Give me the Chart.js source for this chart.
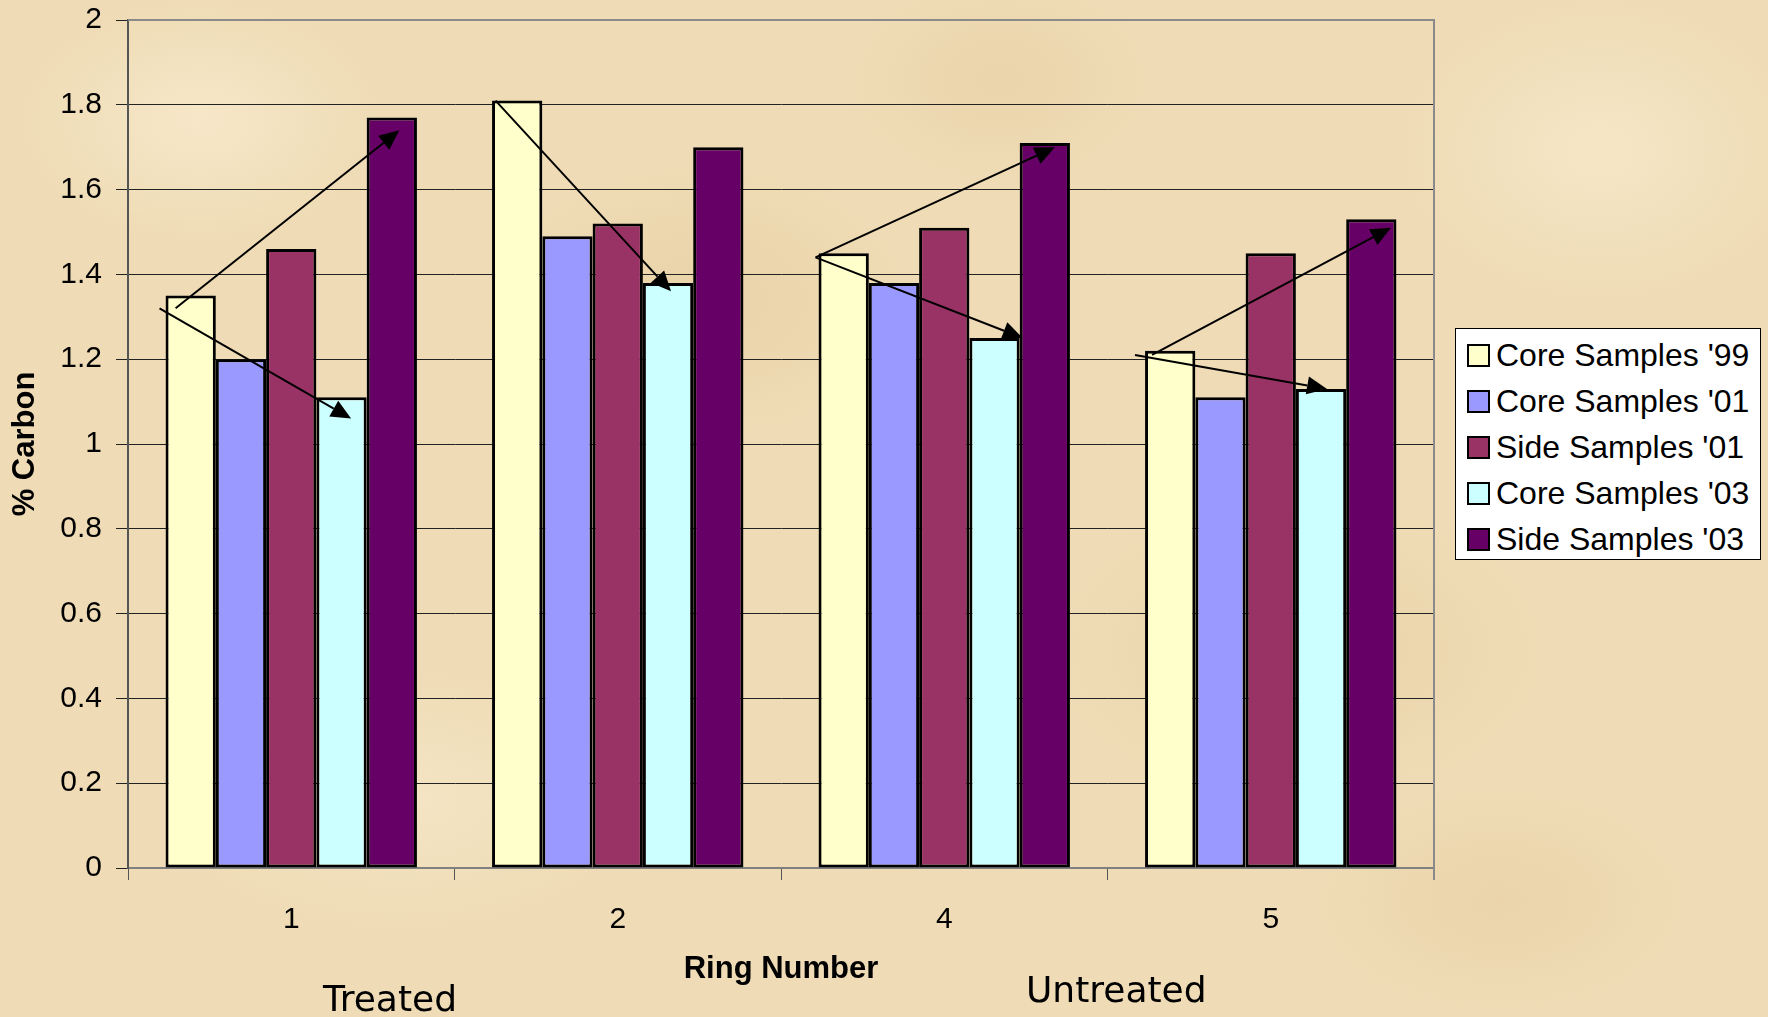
<!DOCTYPE html>
<html>
<head>
<meta charset="utf-8">
<script src="https://cdn.jsdelivr.net/npm/chart.js@4.4.0/dist/chart.umd.min.js"></script>
<style>
  body {
    margin: 0;
    width: 1768px;
    height: 1017px;
    overflow: hidden;
    background-color: #efdcb6;
    background-image:
      radial-gradient(ellipse 180px 120px at 200px 120px, rgba(248, 234, 205, 0.8), transparent),
      radial-gradient(ellipse 220px 140px at 700px 300px, rgba(226, 198, 150, 0.45), transparent),
      radial-gradient(ellipse 260px 160px at 1300px 650px, rgba(226, 198, 150, 0.4), transparent),
      radial-gradient(ellipse 200px 150px at 1600px 150px, rgba(248, 234, 205, 0.7), transparent),
      radial-gradient(ellipse 240px 130px at 400px 800px, rgba(248, 234, 205, 0.6), transparent),
      radial-gradient(ellipse 200px 120px at 1500px 900px, rgba(230, 204, 160, 0.5), transparent),
      radial-gradient(ellipse 160px 110px at 1000px 80px, rgba(228, 202, 158, 0.45), transparent);
  }
  #wrap { position: relative; width: 1768px; height: 1017px; }
  canvas { position: absolute; left: 0; top: 0; }
  #legend {
    position: absolute;
    left: 1455px;
    top: 328px;
    width: 306px;
    height: 232px;
    background: #fff;
    border: 1px solid #000;
    padding-top: 3px;
    box-sizing: border-box;
    font-family: "Liberation Sans", Arial, sans-serif;
    font-size: 32px;
    color: #000;
  }
  #legend .row { height: 46px; display: flex; align-items: center; padding-left: 11px; white-space: nowrap; }
  #legend .sw { width: 19px; height: 19px; border: 2px solid #000; margin-right: 6px; flex: none; }
  .note {
    position: absolute;
    font-family: "DejaVu Sans", sans-serif;
    font-size: 36px;
    line-height: 36px;
    color: #000;
    white-space: nowrap;
  }
</style>
</head>
<body>
<div id="wrap">
  <canvas id="chart" width="1768" height="1017"></canvas>
  <div id="legend"></div>
  <div class="note" style="left:323px; top:981px;">Treated</div>
  <div class="note" style="left:1026px; top:972px;">Untreated</div>
</div>
<script>
// ring numbers on the x axis
const rings = ['1', '2', '4', '5'];

const seriesNames = ["Core Samples '99", "Core Samples '01", "Side Samples '01", "Core Samples '03", "Side Samples '03"];
const seriesColors = ['#FFFFCC', '#9999FF', '#993366', '#CCFFFF', '#660066'];

// % carbon per ring
const core99 = [1.35, 1.81, 1.45, 1.22];
const core01 = [1.20, 1.49, 1.38, 1.11];
const side01 = [1.46, 1.52, 1.51, 1.45];
const core03 = [1.11, 1.38, 1.25, 1.13];
const side03 = [1.77, 1.70, 1.71, 1.53];

// trend arrows: ring index, from [bar position, value], to [bar position, value]
const arrows = [
    { ring: 0, from: [-0.30, 1.32], to: [4.15, 1.74] },
    { ring: 0, from: [-0.62, 1.32], to: [3.19, 1.06] },
    { ring: 1, from: [-0.43, 1.81], to: [3.06, 1.36] },
    { ring: 2, from: [-0.56, 1.44], to: [4.20, 1.70] },
    { ring: 2, from: [-0.56, 1.44], to: [3.56, 1.25] },
    { ring: 3, from: [-0.36, 1.21], to: [4.39, 1.51] },
    { ring: 3, from: [-0.70, 1.21], to: [3.12, 1.13] }
];

const allSeries = [core99, core01, side01, core03, side03];

const legendEl = document.getElementById('legend');
seriesNames.forEach((name, i) => {
    const row = document.createElement('div');
    row.className = 'row';
    const sw = document.createElement('span');
    sw.className = 'sw';
    sw.style.background = seriesColors[i];
    row.appendChild(sw);
    row.appendChild(document.createTextNode(name));
    legendEl.appendChild(row);
});

const arrowPlugin = {
    id: 'arrows',
    afterDatasetsDraw(chart) {
        const ctx = chart.ctx;
        const y = chart.scales.y;
        const first = chart.getDatasetMeta(0).data;
        const last = chart.getDatasetMeta(4).data;
        ctx.save();
        ctx.strokeStyle = '#000';
        ctx.fillStyle = '#000';
        ctx.lineWidth = 2;
        arrows.forEach(a => {
            const x0 = first[a.ring].x;
            const step = (last[a.ring].x - x0) / 4;
            const sx = x0 + a.from[0] * step, sy = y.getPixelForValue(a.from[1]);
            const ex = x0 + a.to[0] * step, ey = y.getPixelForValue(a.to[1]);
            const ang = Math.atan2(ey - sy, ex - sx);
            const len = 20, half = 9;
            const bx = ex - len * Math.cos(ang), by = ey - len * Math.sin(ang);
            ctx.beginPath();
            ctx.moveTo(sx, sy);
            ctx.lineTo(bx, by);
            ctx.stroke();
            ctx.beginPath();
            ctx.moveTo(ex, ey);
            ctx.lineTo(bx + half * Math.sin(ang), by - half * Math.cos(ang));
            ctx.lineTo(bx - half * Math.sin(ang), by + half * Math.cos(ang));
            ctx.closePath();
            ctx.fill();
        });
        ctx.restore();
    },
    afterDraw(chart) {
        const { ctx, chartArea } = chart;
        ctx.save();
        ctx.strokeStyle = '#8a8a8a';
        ctx.lineWidth = 2;
        ctx.beginPath();
        ctx.moveTo(chartArea.left, chartArea.top);
        ctx.lineTo(chartArea.right, chartArea.top);
        ctx.lineTo(chartArea.right, chartArea.bottom + 12);
        ctx.stroke();
        ctx.restore();
    }
};

new Chart(document.getElementById('chart'), {
    type: 'bar',
    data: {
        labels: rings,
        datasets: allSeries.map((vals, i) => ({
            label: seriesNames[i],
            data: vals,
            backgroundColor: seriesColors[i],
            borderColor: '#000',
            borderWidth: 3,
            borderSkipped: false
        }))
    },
    options: {
        responsive: false,
        animation: false,
        devicePixelRatio: 1,
        datasets: {
            bar: { categoryPercentage: 0.77, barPercentage: 1 }
        },
        layout: { padding: { left: 0, top: 20, right: 334, bottom: 0 } },
        plugins: {
            legend: { display: false },
            tooltip: { enabled: false }
        },
        scales: {
            x: {
                afterFit: s => { s.height = 149; },
                grid: { offset: true, drawOnChartArea: false, tickLength: 12, color: '#555' },
                border: { color: '#808080', width: 2 },
                ticks: {
                    color: '#000',
                    padding: 22,
                    font: { family: 'Liberation Sans, Arial, sans-serif', size: 30 }
                },
                title: {
                    display: true,
                    text: 'Ring Number',
                    color: '#000',
                    font: { family: 'Liberation Sans, Arial, sans-serif', size: 31, weight: 'bold' },
                    padding: { top: 0, bottom: 29 }
                }
            },
            y: {
                min: 0,
                max: 2,
                afterFit: s => { s.width = 128; },
                grid: { color: '#222', lineWidth: 1, tickLength: 12 },
                border: { color: '#555', width: 2 },
                ticks: {
                    stepSize: 0.2,
                    color: '#000',
                    padding: 14,
                    font: { family: 'Liberation Sans, Arial, sans-serif', size: 30, lineHeight: 0.2 },
                    callback: v => String(Number(v.toFixed(1)))
                },
                title: {
                    display: true,
                    text: '% Carbon',
                    color: '#000',
                    font: { family: 'Liberation Sans, Arial, sans-serif', size: 31, weight: 'bold' },
                    padding: { top: 7, bottom: 0 }
                }
            }
        }
    },
    plugins: [arrowPlugin]
});
</script>
</body>
</html>
